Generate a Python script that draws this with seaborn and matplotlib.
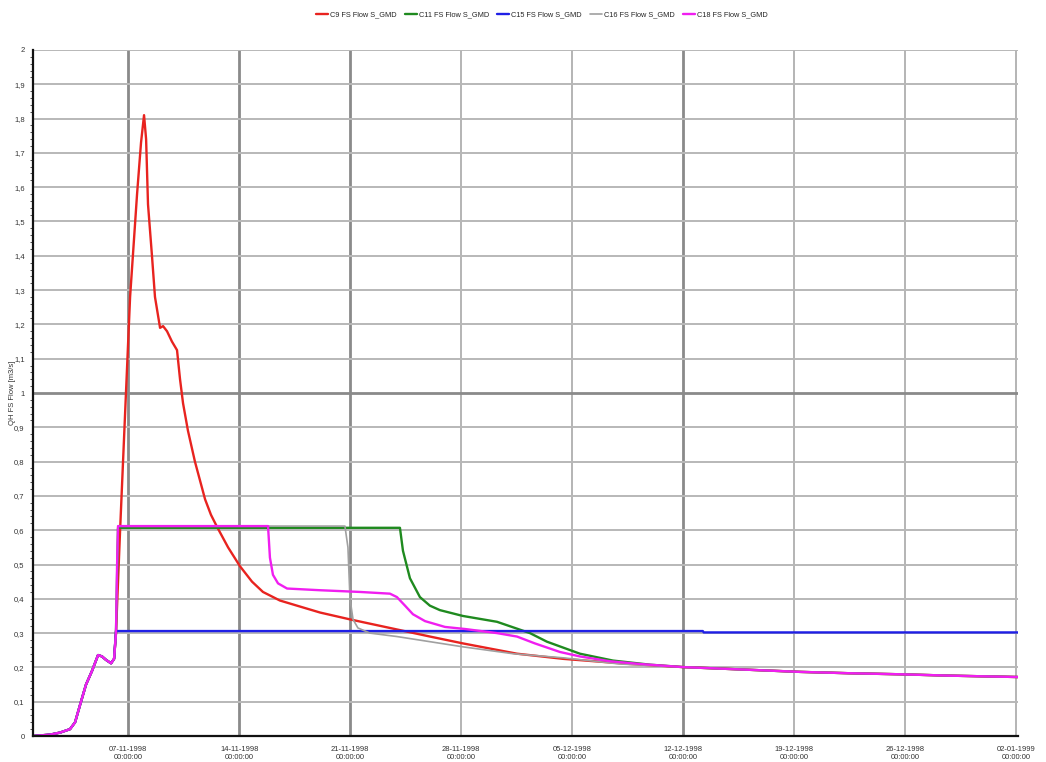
import pandas as pd
import matplotlib
matplotlib.use("Agg")
import matplotlib.pyplot as plt
import matplotlib.dates as mdates
from matplotlib.ticker import MultipleLocator, FuncFormatter
import seaborn as sns

# time in days since 01-11-1998 00:00, flow in m3/s
start = pd.Timestamp("1998-11-01")

# rising limb shared by all nodes
rise_days = [0.0, 1.07, 1.70, 2.33, 2.65, 2.96, 3.34, 3.72, 4.10, 4.35, 4.60, 4.92, 5.11]
rise_flow = [0.0, 0.004, 0.01, 0.02, 0.04, 0.09, 0.15, 0.19, 0.236, 0.232, 0.222, 0.212, 0.225]

# recession tail shared after 12-12
tail_days = [45.21, 48.36, 51.51, 54.67, 57.82, 62.11]
tail_flow = [0.193, 0.187, 0.183, 0.180, 0.176, 0.172]

c9_days = [5.23, 5.49, 5.86, 6.12, 6.56, 6.81, 7.00, 7.13, 7.25, 7.50, 7.69, 8.01, 8.20,
           8.45, 8.76, 9.08, 9.27, 9.46, 9.77, 10.21, 10.53, 10.85, 11.22, 11.60, 12.30,
           13.05, 13.81, 14.50, 15.57, 16.65, 18.10, 19.99, 22.51, 25.03, 27.11, 30.52,
           33.42, 37.64, 40.98]
c9_flow = [0.30, 0.60, 1.00, 1.28, 1.58, 1.73, 1.81, 1.74, 1.55, 1.40, 1.28, 1.19, 1.195,
           1.18, 1.15, 1.125, 1.04, 0.97, 0.89, 0.80, 0.745, 0.69, 0.645, 0.61, 0.55,
           0.495, 0.45, 0.42, 0.395, 0.38, 0.36, 0.34, 0.315, 0.29, 0.27, 0.24,
           0.225, 0.21, 0.201]

c11_days = [5.23, 5.36, 23.14, 23.33, 23.77, 24.40, 25.03, 25.66, 27.11, 29.26, 30.08,
            31.34, 32.41, 34.49, 36.57, 38.90, 40.98]
c11_flow = [0.30, 0.607, 0.607, 0.54, 0.46, 0.405, 0.38, 0.367, 0.35, 0.333, 0.32,
            0.30, 0.275, 0.24, 0.22, 0.208, 0.201]

c15_days = [5.23, 42.24, 42.30, 62.11]
c15_flow = [0.306, 0.306, 0.302, 0.302]

c16_days = [5.23, 5.36, 19.67, 19.86, 19.99, 20.18, 20.49, 21.25, 22.95, 25.03, 27.11,
            30.26, 33.42, 37.01, 40.98]
c16_flow = [0.30, 0.612, 0.612, 0.55, 0.40, 0.34, 0.315, 0.30, 0.29, 0.275, 0.26,
            0.24, 0.228, 0.21, 0.201]

c18_days = [5.23, 5.30, 5.36, 14.82, 14.94, 15.13, 15.45, 16.02, 18.10, 20.62, 22.51,
            22.95, 23.46, 23.96, 24.72, 25.98, 27.24, 29.26, 30.52, 31.65, 33.23, 34.49,
            36.38, 38.27, 40.98]
c18_flow = [0.30, 0.50, 0.612, 0.612, 0.52, 0.47, 0.445, 0.43, 0.425, 0.42, 0.415,
            0.405, 0.38, 0.355, 0.335, 0.318, 0.312, 0.30, 0.29, 0.27, 0.245, 0.232,
            0.218, 0.21, 0.201]

series_names = ["C9 FS Flow S_GMD", "C11 FS Flow S_GMD", "C15 FS Flow S_GMD",
                "C16 FS Flow S_GMD", "C18 FS Flow S_GMD"]
series_colors = ["#e8231f", "#1f8a1f", "#1f1fe6", "#a0a0a0", "#f01ef0"]

series_data = [
    (rise_days + c9_days + tail_days, rise_flow + c9_flow + tail_flow),
    (rise_days + c11_days + tail_days, rise_flow + c11_flow + tail_flow),
    (rise_days + c15_days, rise_flow + c15_flow),
    (rise_days + c16_days + tail_days, rise_flow + c16_flow + tail_flow),
    (rise_days + c18_days + tail_days, rise_flow + c18_flow + tail_flow),
]

frames = []
for name, (days, flow) in zip(series_names, series_data):
    frames.append(pd.DataFrame({
        "time": start + pd.to_timedelta(days, unit="D"),
        "flow": flow,
        "series": name,
    }))
df = pd.concat(frames, ignore_index=True)

sns.set_style("white")
plt.rcParams["font.family"] = ["Liberation Sans", "DejaVu Sans"]

fig = plt.figure(figsize=(10.46, 7.62), dpi=100)
ax = fig.add_axes([0.0316, 0.0341, 0.9417, 0.9003])

# grid lines first so curves sit above them
week_ticks = pd.date_range("1998-11-07", "1999-01-02", freq="7D")
dark_weeks = {pd.Timestamp("1998-11-07"), pd.Timestamp("1998-11-14"),
              pd.Timestamp("1998-11-21"), pd.Timestamp("1998-12-12")}
for t in week_ticks:
    if t in dark_weeks:
        ax.axvline(t, color="#8a8a8a", lw=2.0, zorder=0)
    else:
        ax.axvline(t, color="#b4b4b4", lw=1.4, zorder=0)
for k in range(1, 21):
    yv = k / 10
    if k == 10:
        ax.axhline(yv, color="#8a8a8a", lw=2.0, zorder=0)
    else:
        ax.axhline(yv, color="#b8b8b8", lw=1.4, zorder=0)

for name, color in zip(series_names, series_colors):
    sub = df[df["series"] == name]
    lw = 1.2 if name.startswith("C16") else 1.7
    sns.lineplot(data=sub, x="time", y="flow", ax=ax, color=color, lw=lw,
                 estimator=None, sort=False, label=name, legend=False)

ax.set_xlim(start, pd.Timestamp("1999-01-02 03:00"))
ax.set_ylim(0, 2)

ax.set_xticks(week_ticks)
ax.xaxis.set_major_formatter(mdates.DateFormatter("%d-%m-%Y\n%H:%M:%S"))
ax.yaxis.set_major_locator(MultipleLocator(0.1))
ax.yaxis.set_minor_locator(MultipleLocator(0.02))
ax.yaxis.set_major_formatter(FuncFormatter(lambda v, p: f"{v:.1f}".rstrip("0").rstrip(".").replace(".", ",")))

ax.tick_params(axis="both", which="major", labelsize=5.5, length=4, width=0.8,
               color="#333333", labelcolor="#333333", direction="out")
ax.tick_params(axis="y", which="minor", length=2, width=0.6, color="#333333", left=True)
ax.tick_params(axis="x", pad=3)
ax.tick_params(axis="y", pad=2)

for side in ["top", "right"]:
    ax.spines[side].set_visible(False)
for side in ["left", "bottom"]:
    ax.spines[side].set_color("#111111")
    ax.spines[side].set_linewidth(1.6)

ax.set_xlabel("")
ax.set_ylabel("QH FS Flow [m3/s]", fontsize=5.5, color="#333333")
ax.yaxis.set_label_coords(-0.017, 0.5)

handles, labels = ax.get_legend_handles_labels()
fig.legend(handles, labels, loc="center", bbox_to_anchor=(0.518, 1 - 15 / 762),
           ncol=5, frameon=False, fontsize=5.3, handlelength=1.6, handletextpad=0.3,
           columnspacing=1.1)

fig.savefig("out.png", dpi=100)
